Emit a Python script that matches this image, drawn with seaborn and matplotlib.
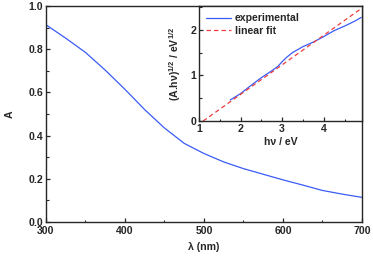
import matplotlib
matplotlib.use("Agg")
import matplotlib.pyplot as plt
from matplotlib.ticker import MultipleLocator, FormatStrFormatter
import seaborn as sns
import pandas as pd

# Main absorbance spectrum
wavelength = [300, 325, 350, 375, 400, 425, 450, 475, 500, 525, 550, 575, 600, 625, 650, 675, 700]
absorbance = [0.913, 0.851, 0.785, 0.703, 0.614, 0.52, 0.435, 0.364, 0.317, 0.278, 0.247, 0.221, 0.195, 0.171, 0.146, 0.129, 0.114]

# Tauc plot (inset)
energy = [1.75, 2.0, 2.25, 2.5, 2.75, 2.9, 3.0, 3.1, 3.25, 3.5, 3.75, 4.0, 4.25, 4.5, 4.75, 4.9]
tauc = [0.46, 0.60, 0.78, 0.95, 1.10, 1.20, 1.30, 1.39, 1.50, 1.63, 1.73, 1.85, 1.98, 2.08, 2.19, 2.27]
fit_energy = [1.10, 4.88]
fit_value = [0.0, 2.45]

sns.set_style("ticks")
plt.rcParams["font.family"] = ["Liberation Sans", "DejaVu Sans"]
plt.rcParams["font.weight"] = "bold"
plt.rcParams["mathtext.fontset"] = "custom"
plt.rcParams["mathtext.rm"] = "Liberation Sans:bold"
plt.rcParams["mathtext.bf"] = "Liberation Sans:bold"
plt.rcParams["mathtext.it"] = "Liberation Sans:bold"
plt.rcParams["mathtext.default"] = "bf"

BLUE = "#3a5cf5"
RED = "#f03c3c"
FS = 7.6

fig = plt.figure(figsize=(3.73, 2.59), dpi=100)
ax = fig.add_axes([0.1233, 0.1429, 0.8472, 0.8339])

df_main = pd.DataFrame({"wl": wavelength, "A": absorbance})
sns.lineplot(data=df_main, x="wl", y="A", ax=ax, color=BLUE, linewidth=0.9)
ax.set_xlim(300, 700)
ax.set_ylim(0, 1.0)
ax.xaxis.set_major_locator(MultipleLocator(100))
ax.xaxis.set_minor_locator(MultipleLocator(50))
ax.yaxis.set_major_locator(MultipleLocator(0.2))
ax.yaxis.set_minor_locator(MultipleLocator(0.1))
ax.yaxis.set_major_formatter(FormatStrFormatter("%.1f"))
ax.set_xlabel("λ (nm)", fontsize=FS, fontweight="bold", labelpad=4)
ax.set_ylabel("A", fontsize=FS, fontweight="bold", labelpad=10)
for s in ax.spines.values():
    s.set_linewidth(1.0)
    s.set_visible(True)
ax.tick_params(which="major", direction="in", length=3, width=0.9, labelsize=FS, pad=2)
ax.tick_params(axis="x", which="major", pad=3)
ax.tick_params(which="minor", direction="in", length=1.8, width=0.8)
for lab in ax.get_xticklabels() + ax.get_yticklabels():
    lab.set_fontweight("bold")

# Inset
ins = fig.add_axes([0.5335, 0.5328, 0.437, 0.444])
df_exp = pd.DataFrame({"E": energy, "T": tauc})
df_fit = pd.DataFrame({"E": fit_energy, "T": fit_value})
sns.lineplot(data=df_exp, x="E", y="T", ax=ins, color=BLUE, linewidth=0.9, label="experimental")
sns.lineplot(data=df_fit, x="E", y="T", ax=ins, color=RED, linewidth=0.9, linestyle=(0, (3.5, 2.5)), label="linear fit")
ins.set_xlim(1.0, 4.92)
ins.set_ylim(0, 2.52)
ins.xaxis.set_major_locator(MultipleLocator(1))
ins.xaxis.set_minor_locator(MultipleLocator(0.5))
ins.yaxis.set_major_locator(MultipleLocator(1))
ins.yaxis.set_minor_locator(MultipleLocator(0.5))
for s in ins.spines.values():
    s.set_linewidth(1.0)
    s.set_visible(True)
ins.tick_params(which="major", direction="in", length=3, width=0.9, labelsize=FS, pad=2)
ins.tick_params(which="minor", direction="in", length=1.8, width=0.8)
for lab in ins.get_xticklabels() + ins.get_yticklabels():
    lab.set_fontweight("bold")
ins.set_xlabel("hν / eV", fontsize=FS, fontweight="bold", labelpad=2)
ins.set_ylabel(r"(A.h$\nu$)$^{1/2}$ / eV$^{1/2}$", fontsize=FS, fontweight="bold", labelpad=5)
leg = ins.legend(loc="upper left", frameon=False, fontsize=FS, handlelength=2.3,
                 handletextpad=0.4, borderaxespad=0.3, labelspacing=0.25)
for t in leg.get_texts():
    t.set_fontweight("bold")

fig.savefig("out.png", dpi=100)
